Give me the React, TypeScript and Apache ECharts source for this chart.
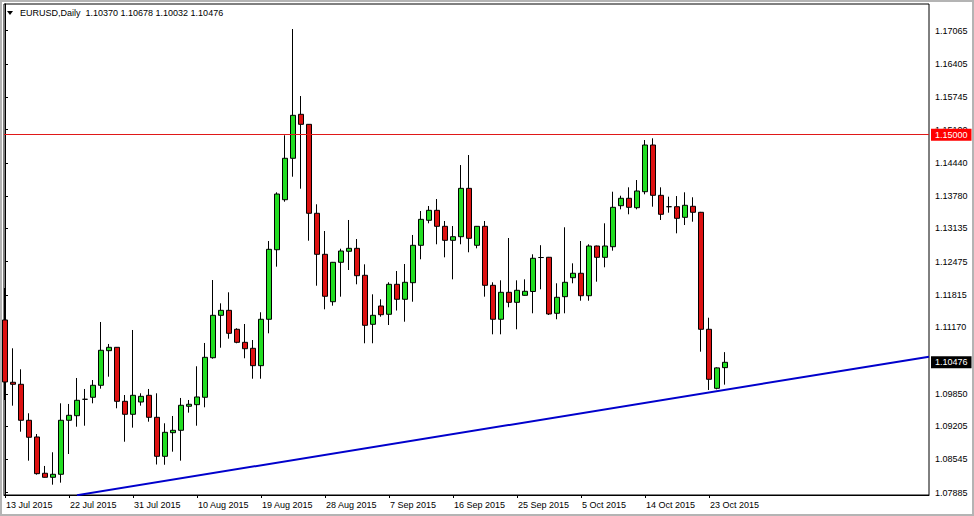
import React, { useEffect, useRef } from "react";
import * as echarts from "echarts";

const SYMBOL = "EURUSD";
const PERIOD = "Daily";

const DATES = [
  "13 Jul 2015", "14 Jul 2015", "15 Jul 2015", "16 Jul 2015", "17 Jul 2015", "19 Jul 2015", "20 Jul 2015", "21 Jul 2015",
  "22 Jul 2015", "23 Jul 2015", "24 Jul 2015", "26 Jul 2015", "27 Jul 2015", "28 Jul 2015", "29 Jul 2015", "30 Jul 2015",
  "31 Jul 2015", "2 Aug 2015", "3 Aug 2015", "4 Aug 2015", "5 Aug 2015", "6 Aug 2015", "7 Aug 2015", "9 Aug 2015",
  "10 Aug 2015", "11 Aug 2015", "12 Aug 2015", "13 Aug 2015", "14 Aug 2015", "16 Aug 2015", "17 Aug 2015", "18 Aug 2015",
  "19 Aug 2015", "20 Aug 2015", "21 Aug 2015", "23 Aug 2015", "24 Aug 2015", "25 Aug 2015", "26 Aug 2015", "27 Aug 2015",
  "28 Aug 2015", "30 Aug 2015", "31 Aug 2015", "1 Sep 2015", "2 Sep 2015", "3 Sep 2015", "4 Sep 2015", "6 Sep 2015",
  "7 Sep 2015", "8 Sep 2015", "9 Sep 2015", "10 Sep 2015", "11 Sep 2015", "13 Sep 2015", "14 Sep 2015", "15 Sep 2015",
  "16 Sep 2015", "17 Sep 2015", "18 Sep 2015", "20 Sep 2015", "21 Sep 2015", "22 Sep 2015", "23 Sep 2015", "24 Sep 2015",
  "25 Sep 2015", "27 Sep 2015", "28 Sep 2015", "29 Sep 2015", "30 Sep 2015", "1 Oct 2015", "2 Oct 2015", "4 Oct 2015",
  "5 Oct 2015", "6 Oct 2015", "7 Oct 2015", "8 Oct 2015", "9 Oct 2015", "11 Oct 2015", "12 Oct 2015", "13 Oct 2015",
  "14 Oct 2015", "15 Oct 2015", "16 Oct 2015", "18 Oct 2015", "19 Oct 2015", "20 Oct 2015", "21 Oct 2015", "22 Oct 2015",
  "23 Oct 2015", "25 Oct 2015", "26 Oct 2015",
];

const OPEN = [
  1.11317, 1.10079, 1.10039, 1.09324, 1.08992, 1.08271, 1.08191, 1.08251,
  1.09324, 1.09415, 1.09741, 1.09781, 1.10019, 1.10707, 1.10774, 1.09701,
  1.09443, 1.09687, 1.09820, 1.09383, 1.08608, 1.09077, 1.09125, 1.09602,
  1.09634, 1.09781, 1.10567, 1.11410, 1.11509, 1.11132, 1.10873, 1.10754,
  1.10409, 1.11331, 1.12713, 1.13707, 1.14530, 1.15404, 1.15205, 1.13437,
  1.12622, 1.11680, 1.12463, 1.12682, 1.12741, 1.12205, 1.11231, 1.11595,
  1.11430, 1.12026, 1.11728, 1.12058, 1.12801, 1.13298, 1.13496, 1.13178,
  1.12900, 1.12972, 1.13933, 1.12801, 1.13178, 1.12006, 1.11331, 1.11867,
  1.11668, 1.11807, 1.11883, 1.12558, 1.12563, 1.11450, 1.11780, 1.12157,
  1.12245, 1.11799, 1.12787, 1.12562, 1.12773, 1.13588, 1.13735, 1.13548,
  1.13866, 1.14794, 1.13794, 1.13568, 1.13568, 1.13357, 1.13576, 1.13457,
  1.11132, 1.09959, 1.10370,
];
const HIGH = [
  1.11952, 1.10754, 1.10337, 1.09463, 1.09051, 1.08416, 1.08688, 1.09661,
  1.09648, 1.10164, 1.09946, 1.10124, 1.11277, 1.10840, 1.10780, 1.09826,
  1.11118, 1.09860, 1.09946, 1.09860, 1.09264, 1.09409, 1.09767, 1.09727,
  1.10397, 1.10860, 1.12111, 1.11648, 1.11867, 1.11152, 1.11237, 1.10919,
  1.11470, 1.12886, 1.13854, 1.14987, 1.17099, 1.15767, 1.15210, 1.13616,
  1.13085, 1.12470, 1.12733, 1.13304, 1.12926, 1.12423, 1.11827, 1.11728,
  1.12066, 1.12290, 1.12429, 1.13006, 1.13482, 1.13582, 1.13721, 1.13284,
  1.13184, 1.14396, 1.14595, 1.13185, 1.13284, 1.12066, 1.12105, 1.12946,
  1.12105, 1.12125, 1.12622, 1.12803, 1.12570, 1.12046, 1.13159, 1.12443,
  1.12886, 1.12821, 1.12795, 1.13238, 1.13866, 1.13786, 1.13953, 1.14098,
  1.14893, 1.14927, 1.13953, 1.13767, 1.13780, 1.13854, 1.13755, 1.13465,
  1.11362, 1.10377, 1.10678,
];
const LOW = [
  1.09727, 1.09614, 1.09097, 1.08521, 1.08243, 1.08185, 1.08044, 1.08084,
  1.08654, 1.09196, 1.09216, 1.09661, 1.09952, 1.10190, 1.09562, 1.08898,
  1.09177, 1.09614, 1.09296, 1.08445, 1.08440, 1.08700, 1.08521, 1.09475,
  1.09216, 1.09582, 1.10548, 1.10766, 1.10945, 1.10854, 1.10556, 1.10150,
  1.10150, 1.11052, 1.12376, 1.13667, 1.14164, 1.13926, 1.12892, 1.11998,
  1.11529, 1.11601, 1.11780, 1.12310, 1.12026, 1.10854, 1.10854, 1.11382,
  1.11217, 1.11505, 1.11283, 1.11680, 1.12523, 1.13238, 1.12821, 1.12562,
  1.12125, 1.12821, 1.12662, 1.12741, 1.11780, 1.11032, 1.11032, 1.11569,
  1.11132, 1.11800, 1.11450, 1.11927, 1.11416, 1.11331, 1.11450, 1.12046,
  1.11700, 1.11700, 1.12078, 1.12364, 1.12694, 1.13516, 1.13417, 1.13516,
  1.13814, 1.13568, 1.13304, 1.13449, 1.13039, 1.13204, 1.13270, 1.10687,
  1.09926, 1.09939, 1.10032,
];
const CLOSE = [
  1.10085, 1.10039, 1.09324, 1.08986, 1.08263, 1.08191, 1.08251, 1.09324,
  1.09423, 1.09721, 1.09741, 1.10019, 1.10715, 1.10774, 1.09701, 1.09443,
  1.09820, 1.09800, 1.09383, 1.08608, 1.09085, 1.09125, 1.09622, 1.09642,
  1.09787, 1.10575, 1.11410, 1.11509, 1.11052, 1.10873, 1.10746, 1.10409,
  1.11331, 1.12721, 1.13820, 1.14530, 1.15384, 1.15205, 1.13437, 1.12622,
  1.11788, 1.12463, 1.12688, 1.12741, 1.12197, 1.11211, 1.11410, 1.11422,
  1.12026, 1.11728, 1.12066, 1.12801, 1.13317, 1.13496, 1.13178, 1.12900,
  1.12972, 1.13933, 1.12940, 1.13178, 1.12006, 1.11331, 1.11867, 1.11668,
  1.11907, 1.11887, 1.12543, 1.12558, 1.11436, 1.11768, 1.12066, 1.12245,
  1.11799, 1.12787, 1.12562, 1.12787, 1.13556, 1.13735, 1.13556, 1.13880,
  1.14794, 1.13794, 1.13417, 1.13568, 1.13337, 1.13596, 1.13457, 1.11132,
  1.10138, 1.10365, 1.10476,
];

const X_TICK_INDICES = [0, 8, 16, 24, 32, 40, 48, 56, 64, 72, 80, 88];
const Y_TICKS = [
  1.07885, 1.08545, 1.09205, 1.0985, 1.1051, 1.1117, 1.11815, 1.12475,
  1.13135, 1.1378, 1.1444, 1.151, 1.15745, 1.16405, 1.17065,
];
// labels that stay readable (1.10510 sits fully under the current-price tag)
const Y_LABELS = [
  1.07885, 1.08545, 1.09205, 1.0985, 1.1117, 1.11815, 1.12475,
  1.13135, 1.1378, 1.1444, 1.151, 1.15745, 1.16405, 1.17065,
];
const Y_MIN = 1.07839;
const Y_MAX = 1.17596;
const X_MIN = -0.125;
const X_MAX = 115.5;

const LEVEL_LINE = 1.15;
// trend line anchors: [bar index, price]
const TREND_LINE = [
  [9, 1.07835],
  [115.5, 1.10587],
];

const FONT = "Liberation Sans";

export default function App() {
  const ref = useRef<HTMLDivElement>(null);

  useEffect(() => {
    document.body.style.margin = "0";
    if (!ref.current) return;
    const chart = echarts.init(ref.current, null, { renderer: "svg" });

    const last = DATES.length - 1;
    const header =
      `${SYMBOL},${PERIOD}  ` +
      [OPEN[last], HIGH[last], LOW[last], CLOSE[last]].map((v) => v.toFixed(5)).join(" ");

    const candles = DATES.map((_, i) => [i, OPEN[i], CLOSE[i], LOW[i], HIGH[i]]);

    const baseGraphics: any[] = [
      {
        id: "frame",
        type: "rect",
        silent: true,
        z: 100,
        shape: { x: 1, y: 1, width: 972, height: 514 },
        style: { fill: "none", stroke: "#b4b4b4", lineWidth: 2 },
      },
      {
        id: "tri",
        type: "polygon",
        silent: true,
        z: 100,
        shape: { points: [[7, 11], [13, 11], [10, 15]] },
        style: { fill: "#000" },
      },
      {
        id: "header",
        type: "text",
        silent: true,
        z: 100,
        x: 20,
        y: 13,
        style: {
          text: header,
          fill: "#000",
          fontSize: 9,
          fontFamily: FONT,
          verticalAlign: "middle",
        },
      },
    ];

    chart.setOption({
      animation: false,
      backgroundColor: "#ffffff",
      grid: {
        left: 4,
        top: 4,
        width: 925,
        height: 491,
        show: true,
        borderColor: "#000000",
        borderWidth: 1,
        backgroundColor: "#ffffff",
      },
      xAxis: {
        type: "value",
        min: X_MIN,
        max: X_MAX,
        axisLine: { show: true, lineStyle: { color: "#000", width: 1 } },
        axisTick: {
          show: true,
          customValues: X_TICK_INDICES,
          length: 3,
          lineStyle: { color: "#000" },
        },
        axisLabel: {
          show: true,
          customValues: X_TICK_INDICES,
          formatter: (v: number) => DATES[Math.round(v)] ?? "",
          align: "left",
          margin: 5,
          color: "#000",
          fontSize: 9,
          fontFamily: FONT,
          padding: [0, 0, 0, 1],
        },
        splitLine: { show: false },
      },
      yAxis: {
        type: "value",
        position: "right",
        min: Y_MIN,
        max: Y_MAX,
        axisLine: { show: true, lineStyle: { color: "#000", width: 1 } },
        axisTick: {
          show: true,
          customValues: Y_TICKS,
          length: 3,
          lineStyle: { color: "#000" },
        },
        axisLabel: {
          show: true,
          customValues: Y_LABELS,
          formatter: (v: number) => v.toFixed(5),
          margin: 6,
          color: "#000",
          fontSize: 9,
          fontFamily: FONT,
        },
        splitLine: { show: false },
      },
      graphic: baseGraphics,
      series: [
        {
          type: "candlestick",
          data: candles,
          barWidth: 5,
          itemStyle: {
            color: "#22dd22",
            color0: "#dd1111",
            borderColor: "#000",
            borderColor0: "#000",
            borderColorDoji: "#000",
            borderWidth: 1,
          },
          markLine: {
            silent: true,
            symbol: ["none", "none"],
            animation: false,
            data: [
              {
                yAxis: LEVEL_LINE,
                lineStyle: { color: "#e01818", width: 1, type: "solid" },
                label: {
                  show: true,
                  position: "end",
                  distance: 2,
                  formatter: LEVEL_LINE.toFixed(5),
                  backgroundColor: "#ff0000",
                  color: "#fff",
                  padding: [2, 4, 1, 4],
                  fontSize: 9,
                  fontFamily: FONT,
                },
              },
            ],
          },
          z: 3,
        },
        {
          type: "line",
          data: TREND_LINE,
          symbol: "none",
          clip: true,
          lineStyle: { color: "#0000cc", width: 2 },
          z: 4,
        },
      ],
    });

    // current-price tag, positioned through the chart's own y scale
    const pt = chart.convertToPixel({ gridIndex: 0 }, [X_MAX, CLOSE[last]]) as number[];
    if (pt && isFinite(pt[1])) {
      chart.setOption({
        graphic: [
          ...baseGraphics,
          {
            id: "curTag",
            type: "text",
            silent: true,
            z: 101,
            x: pt[0] + 2,
            y: pt[1],
            style: {
              text: CLOSE[last].toFixed(5),
              fill: "#ffffff",
              fontSize: 9,
              fontFamily: FONT,
              verticalAlign: "middle",
              align: "left",
              backgroundColor: "#000000",
              padding: [2, 4, 1, 4],
            },
          },
        ],
      });
    }

    return () => chart.dispose();
  }, []);

  return (
    <div
      ref={ref}
      style={{ position: "fixed", left: 0, top: 0, width: 974, height: 516 }}
    />
  );
}
